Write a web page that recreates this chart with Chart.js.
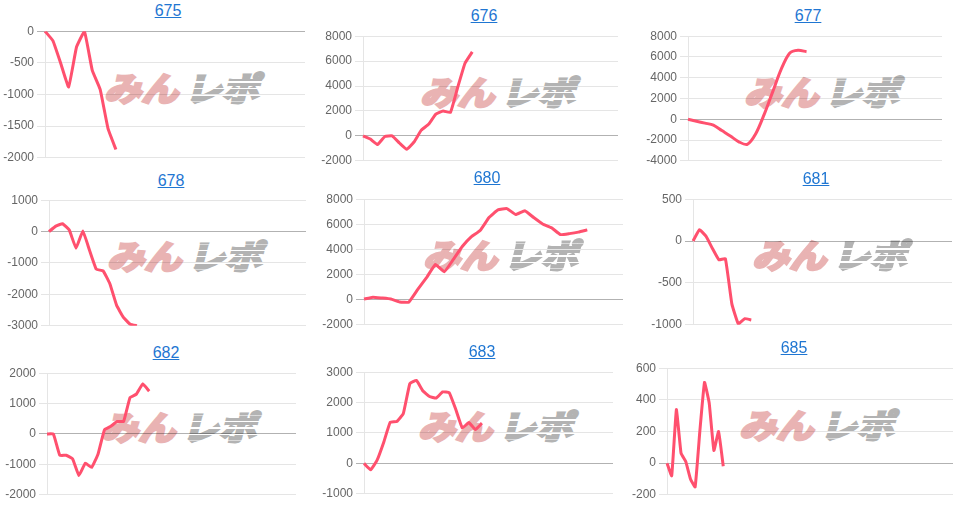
<!DOCTYPE html>
<html>
<head>
<meta charset="utf-8">
<script src="https://cdn.jsdelivr.net/npm/chart.js@4"></script>
<style>
  body { margin: 0; background: #fff; width: 961px; height: 505px; overflow: hidden; position: relative; font-family: Arial, "Liberation Sans", sans-serif; }
  .title { position: absolute; transform: translate(-50%, -50%); font-size: 16px; color: #1f76d2; text-decoration: underline; white-space: nowrap; }
  .mark { position: absolute; transform: translate(-50%, -50%) skewX(-14deg) scaleX(1.12); font-family: "Noto Sans CJK JP", sans-serif; font-weight: 700; font-size: 33px; line-height: 1; white-space: nowrap; }
  .mark .a { color: #e9b3b3; -webkit-text-stroke: 3px #e9b3b3; }
  .mark .b { color: #b3b3b3; -webkit-text-stroke: 3px #b3b3b3; margin-left: 6px; position: relative; display: inline-block; }
  .mark .b::after { content: ''; position: absolute; left: -4px; right: -4px; top: 6px; bottom: 2px;
    background: repeating-linear-gradient(180deg, transparent 0 5px, #fff 5px 6.5px); }
  canvas { position: absolute; }
</style>
</head>
<body>
<script>
// chart names and y-axis ranges
const chartIds = ['675', '676', '677', '678', '680', '681', '682', '683', '685'];
const yMins = [-2000, -2000, -4000, -3000, -2000, -1000, -2000, -1000, -200];
const yMaxs = [0, 8000, 8000, 1000, 8000, 500, 2000, 3000, 600];
const ySteps = [500, 2000, 2000, 1000, 2000, 500, 1000, 1000, 200];
// number of x slots on each (hidden) x axis
const slotCounts = [34, 36, 31, 39, 30, 41, 40, 39, 62];

// series values
const s675 = [0, -150, -510, -880, -250, 0, -620, -920, -1540, -1870];
const s676 = [0, -250, -700, -50, 0, -570, -1080, -490, 460, 930, 1750, 1990, 1880, 3900, 5830, 6740];
const s677 = [0, -190, -370, -560, -1090, -1610, -2170, -2420, -1400, 470, 2640, 4800, 6360, 6640, 6510];
const s678 = [0, 175, 250, 50, -530, 20, -600, -1200, -1250, -1660, -2350, -2730, -2950, -3000];
const s680 = [50, 200, 130, 50, -180, -200, 800, 1750, 2800, 2230, 3200, 4230, 5000, 5510, 6540, 7150, 7250, 6780, 7080, 6540, 6030, 5720, 5180, 5260, 5380, 5560];
const s681 = [0, 135, 58, -88, -223, -210, -750, -988, -927, -942];
const s682 = [0, 0, -700, -700, -815, -1365, -963, -1100, -656, 138, 254, 413, 413, 1196, 1312, 1650, 1407];
const s683 = [0, -212, 106, 688, 1354, 1376, 1640, 2624, 2730, 2381, 2201, 2148, 2349, 2328, 1778, 1164, 1344, 1111, 1323];
const s685 = [0, -80, 338, 62, 10, -100, -150, 200, 510, 380, 80, 200, -20];
const series = [s675, s676, s677, s678, s680, s681, s682, s683, s685];

// chart area boxes [left, right, top, bottom] and title centres
const areas = [
  [45, 305, 29, 160], [363, 618, 34, 163], [688, 942, 34, 163],
  [49, 306, 198, 328], [364, 623, 197, 327], [693, 952, 197, 327],
  [47, 296, 371, 497], [364, 613, 370, 496], [667, 953, 366, 497]
];
const titlePos = [
  [168, 11], [484, 16], [808, 16],
  [171, 181], [487, 178], [816, 179],
  [166, 353], [482, 352], [794, 348]
];

const AXIS_W = 45;
const PAD = 8;

chartIds.forEach((id, i) => {
  const [l, r, t, b] = areas[i];

  const title = document.createElement('a');
  title.className = 'title';
  title.textContent = id;
  title.style.left = titlePos[i][0] + 'px';
  title.style.top = titlePos[i][1] + 'px';
  document.body.appendChild(title);

  // watermark sits behind the canvas
  const mark = document.createElement('div');
  mark.className = 'mark';
  mark.innerHTML = '<span class="a">みん</span><span class="b">レポ</span>';
  mark.style.left = ((l + r) / 2 + 10) + 'px';
  mark.style.top = ((t + b) / 2 - 8) + 'px';
  document.body.appendChild(mark);

  const canvas = document.createElement('canvas');
  canvas.width = r - l + AXIS_W + 4;
  canvas.height = b - t + PAD * 2;
  canvas.style.left = (l - AXIS_W) + 'px';
  canvas.style.top = (t - PAD) + 'px';
  document.body.appendChild(canvas);

  const labels = Array.from({ length: slotCounts[i] }, (_, k) => k + 1);

  new Chart(canvas, {
    type: 'line',
    data: {
      labels: labels,
      datasets: [{
        data: series[i],
        borderColor: 'rgb(255, 80, 110)',
        borderWidth: 3,
        pointRadius: 0,
        tension: id === '677' ? 0.3 : 0.1,
        fill: false
      }]
    },
    options: {
      responsive: false,
      animation: false,
      devicePixelRatio: 1,
      layout: { padding: { top: PAD, bottom: PAD, left: 0, right: 4 } },
      plugins: { legend: { display: false }, tooltip: { enabled: false } },
      scales: {
        x: { display: false },
        y: {
          min: yMins[i],
          max: yMaxs[i],
          afterFit: scale => { scale.width = AXIS_W; },
          ticks: {
            stepSize: ySteps[i],
            color: '#666',
            font: { size: 12, family: 'Arial, "Liberation Sans", sans-serif' },
            callback: v => String(v)
          },
          grid: {
            color: ctx => ctx.tick && ctx.tick.value === 0 ? 'rgba(0,0,0,0.3)' : 'rgba(0,0,0,0.1)'
          },
          border: { color: 'rgba(0,0,0,0.1)' }
        }
      }
    }
  });
});
</script>
</body>
</html>
